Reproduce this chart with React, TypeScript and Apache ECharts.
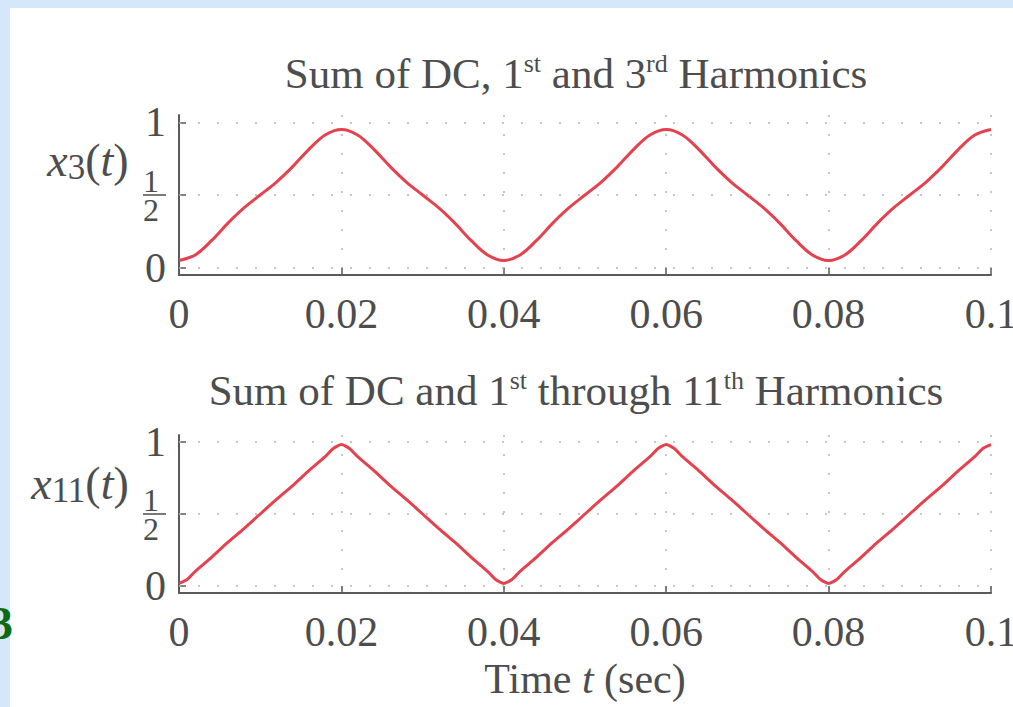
import React, { useEffect, useRef } from "react";
import * as echarts from "echarts";

// ---- data ----
const xTicks = [0, 0.02, 0.04, 0.06, 0.08, 0.1];
const yTicks = [0, 0.5, 1];

const T3 = [0, 0.002, 0.004, 0.006, 0.008, 0.01, 0.012, 0.014, 0.016, 0.018, 0.02, 0.022, 0.024, 0.026, 0.028, 0.03, 0.032, 0.034, 0.036, 0.038, 0.04, 0.042, 0.044, 0.046, 0.048, 0.05, 0.052, 0.054, 0.056, 0.058, 0.06, 0.062, 0.064, 0.066, 0.068, 0.07, 0.072, 0.074, 0.076, 0.078, 0.08, 0.082, 0.084, 0.086, 0.088, 0.09, 0.092, 0.094, 0.096, 0.098, 0.1];
const X3 = [0.05, 0.088, 0.186, 0.305, 0.411, 0.5, 0.589, 0.695, 0.814, 0.912, 0.95, 0.912, 0.814, 0.695, 0.589, 0.5, 0.411, 0.305, 0.186, 0.088, 0.05, 0.088, 0.186, 0.305, 0.411, 0.5, 0.589, 0.695, 0.814, 0.912, 0.95, 0.912, 0.814, 0.695, 0.589, 0.5, 0.411, 0.305, 0.186, 0.088, 0.05, 0.088, 0.186, 0.305, 0.411, 0.5, 0.589, 0.695, 0.814, 0.912, 0.95];

const T11 = [0, 0.001, 0.002, 0.004, 0.006, 0.008, 0.01, 0.012, 0.014, 0.016, 0.018, 0.019, 0.02, 0.021, 0.022, 0.024, 0.026, 0.028, 0.03, 0.032, 0.034, 0.036, 0.038, 0.039, 0.04, 0.041, 0.042, 0.044, 0.046, 0.048, 0.05, 0.052, 0.054, 0.056, 0.058, 0.059, 0.06, 0.061, 0.062, 0.064, 0.066, 0.068, 0.07, 0.072, 0.074, 0.076, 0.078, 0.079, 0.08, 0.081, 0.082, 0.084, 0.086, 0.088, 0.09, 0.092, 0.094, 0.096, 0.098, 0.099, 0.1];
const X11 = [0.017, 0.044, 0.101, 0.198, 0.302, 0.399, 0.5, 0.601, 0.698, 0.802, 0.899, 0.956, 0.983, 0.956, 0.899, 0.802, 0.698, 0.601, 0.5, 0.399, 0.302, 0.198, 0.101, 0.044, 0.017, 0.044, 0.101, 0.198, 0.302, 0.399, 0.5, 0.601, 0.698, 0.802, 0.899, 0.956, 0.983, 0.956, 0.899, 0.802, 0.698, 0.601, 0.5, 0.399, 0.302, 0.198, 0.101, 0.044, 0.017, 0.044, 0.101, 0.198, 0.302, 0.399, 0.5, 0.601, 0.698, 0.802, 0.899, 0.956, 0.983];

const FONT = "'Liberation Serif', 'DejaVu Serif', serif";
const TEXT = "#4d4d4d";
const AXIS = "#5a5a5a";
const RED = "#e4424e";
const GRIDC = "#b4b4b4";
const FS = 42;

function pairs(t: number[], v: number[]) {
  return t.map((x, i) => [x, v[i]]);
}

const xLabelFmt = (v: number) => (v === 0 ? "0" : String(parseFloat(v.toFixed(3))));
const yLabelFmt = (v: number) =>
  Math.abs(v - 0.5) < 1e-9 ? "{n|1}\n{bar| }\n{n|2}" : "{b|" + String(v) + "}";

const yRich = {
  b: { fontSize: FS, fontFamily: FONT, color: TEXT },
  n: { fontSize: 32, fontFamily: FONT, color: TEXT, lineHeight: 24, width: 16, align: "center", padding: [0, 7, 0, 0] },
  bar: { fontSize: 2, lineHeight: 5, width: 16, height: 1.5, backgroundColor: TEXT, padding: [0, 7, 0, 0] },
};

function makeX(gridIndex: number, withName: boolean) {
  return {
    type: "value",
    gridIndex,
    min: 0,
    max: 0.1,
    interval: 0.02,
    axisLine: { show: true, onZero: false, lineStyle: { color: AXIS, width: 2 } },
    axisTick: { show: true, inside: true, length: 7, lineStyle: { color: AXIS, width: 1.5 } },
    axisLabel: { fontSize: FS, fontFamily: FONT, color: TEXT, margin: 18, formatter: xLabelFmt },
    splitLine: { show: true, lineStyle: { color: GRIDC, width: 1.5, type: [2, 17] } },
    name: withName ? "Time {i|t} (sec)" : "",
    nameLocation: "middle",
    nameGap: 65,
    nameTextStyle: {
      fontSize: FS,
      fontFamily: FONT,
      color: TEXT,
      rich: { i: { fontSize: FS, fontFamily: FONT, fontStyle: "italic", color: TEXT } },
    },
  };
}

function makeY(gridIndex: number) {
  return {
    type: "value",
    gridIndex,
    min: -0.05,
    max: 1.05,
    axisLine: { show: true, onZero: false, lineStyle: { color: AXIS, width: 2 } },
    axisTick: { show: true, inside: true, length: 7, customValues: yTicks, lineStyle: { color: AXIS, width: 1.5 } },
    axisLabel: { customValues: yTicks, margin: 13, formatter: yLabelFmt, rich: yRich },
    splitLine: { show: false },
  };
}

function hGrid() {
  return {
    silent: true,
    symbol: "none",
    label: { show: false },
    lineStyle: { color: GRIDC, width: 1.5, type: [2, 17] },
    data: yTicks.map((v) => ({ yAxis: v })),
  };
}

function rt(size: number) {
  return {
    i: { fontSize: size, fontFamily: FONT, fontStyle: "italic", fill: TEXT },
    s: { fontSize: Math.round(size * 0.75), fontFamily: FONT, fill: TEXT, padding: [Math.round(size * 0.3), 0, 0, 0] },
    n: { fontSize: size, fontFamily: FONT, fill: TEXT },
    sup: { fontSize: Math.round(size * 0.6), fontFamily: FONT, fill: TEXT, padding: [0, 0, Math.round(size * 0.45), 0] },
  };
}

export default function App() {
  const ref = useRef<HTMLDivElement>(null);
  useEffect(() => {
    if (!ref.current) return;
    const chart = echarts.init(ref.current, null, { renderer: "svg" });
    chart.setOption({
      animation: false,
      backgroundColor: "transparent",
      grid: [
        { left: 179, top: 115, width: 812, height: 160, outerBoundsMode: "none", containLabel: false },
        { left: 179, top: 435, width: 812, height: 158, outerBoundsMode: "none", containLabel: false },
      ],
      xAxis: [makeX(0, false), makeX(1, true)],
      yAxis: [makeY(0), makeY(1)],
      series: [
        {
          type: "line",
          xAxisIndex: 0,
          yAxisIndex: 0,
          data: pairs(T3, X3),
          smooth: 0.35,
          showSymbol: false,
          lineStyle: { color: RED, width: 3 },
          markLine: hGrid(),
          z: 3,
        },
        {
          type: "line",
          xAxisIndex: 1,
          yAxisIndex: 1,
          data: pairs(T11, X11),
          smooth: 0.2,
          showSymbol: false,
          lineStyle: { color: RED, width: 3 },
          markLine: hGrid(),
          z: 3,
        },
      ],
      graphic: [
        {
          type: "text",
          x: 576,
          y: 73,
          style: {
            text: "{n|Sum of DC, 1}{sup|st}{n| and 3}{sup|rd}{n| Harmonics}",
            rich: rt(FS + 1),
            align: "center",
            verticalAlign: "middle",
          },
        },
        {
          type: "text",
          x: 576,
          y: 390,
          style: {
            text: "{n|Sum of DC and 1}{sup|st}{n| through 11}{sup|th}{n| Harmonics}",
            rich: rt(FS + 1),
            align: "center",
            verticalAlign: "middle",
          },
        },
        {
          type: "text",
          x: 88,
          y: 160,
          style: { text: "{i|x}{s|3}{n|(}{i|t}{n|)}", rich: rt(46), align: "center", verticalAlign: "middle" },
        },
        {
          type: "text",
          x: 80,
          y: 483,
          style: { text: "{i|x}{s|11}{n|(}{i|t}{n|)}", rich: rt(46), align: "center", verticalAlign: "middle" },
        },
        {
          type: "text",
          x: -10,
          y: 623,
          style: {
            text: "3",
            fontSize: 46,
            fontWeight: "bold",
            fontFamily: FONT,
            fill: "#0b6b12",
            verticalAlign: "middle",
          },
        },
      ],
    });
    return () => chart.dispose();
  }, []);

  return (
    <div style={{ position: "fixed", left: 0, top: 0, width: 1013, height: 707, background: "#d5e7fb", overflow: "hidden" }}>
      <div style={{ position: "absolute", left: 10, top: 8, width: 1003, height: 699, background: "#ffffff" }} />
      <div ref={ref} style={{ position: "absolute", left: 0, top: 0, width: 1013, height: 707 }} />
    </div>
  );
}
